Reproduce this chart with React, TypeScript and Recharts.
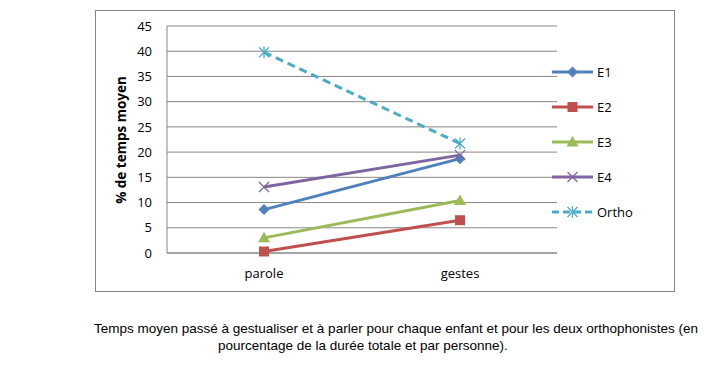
import React from 'react';
import { LineChart, Line, XAxis, YAxis, CartesianGrid } from 'recharts';

const categories = ['parole', 'gestes'];
const e1 = [8.6, 18.7];
const e2 = [0.3, 6.5];
const e3 = [3.0, 10.4];
const e4 = [13.1, 19.4];
const ortho = [39.8, 21.7];
const yTicks = [0, 5, 10, 15, 20, 25, 30, 35, 40, 45];

const SERIES = [
    { key: 'E1', values: e1, color: '#4F81BD', marker: 'diamond', dash: undefined },
    { key: 'E2', values: e2, color: '#C0504D', marker: 'square', dash: undefined },
    { key: 'E3', values: e3, color: '#9BBB59', marker: 'triangle', dash: undefined },
    { key: 'E4', values: e4, color: '#8064A2', marker: 'cross', dash: undefined },
    { key: 'Ortho', values: ortho, color: '#4BACC6', marker: 'star', dash: '8 5' },
];

const data = categories.map((c, i) => {
    const row: Record<string, string | number> = { name: c };
    SERIES.forEach((s) => { row[s.key] = s.values[i]; });
    return row;
});

const FONT = '"Open Sans", "Liberation Sans", sans-serif';
const CAPTION_FONT = '"Liberation Sans", Arial, sans-serif';
const GRID = '#868686';

const Marker = ({ kind, cx, cy, color }: { kind: string; cx: number; cy: number; color: string }) => {
    if (kind === 'diamond') {
        return <polygon points={`${cx},${cy - 5.5} ${cx + 5.5},${cy} ${cx},${cy + 5.5} ${cx - 5.5},${cy}`} fill={color} />;
    }
    if (kind === 'square') {
        return <rect x={cx - 5} y={cy - 5} width={10} height={10} fill={color} />;
    }
    if (kind === 'triangle') {
        return <polygon points={`${cx},${cy - 6} ${cx + 6},${cy + 4.5} ${cx - 6},${cy + 4.5}`} fill={color} />;
    }
    if (kind === 'cross') {
        return (
            <g stroke={color} strokeWidth={1.3}>
                <line x1={cx - 5} y1={cy - 5} x2={cx + 5} y2={cy + 5} />
                <line x1={cx - 5} y1={cy + 5} x2={cx + 5} y2={cy - 5} />
            </g>
        );
    }
    return (
        <g stroke={color} strokeWidth={1.3}>
            <line x1={cx - 5} y1={cy - 5} x2={cx + 5} y2={cy + 5} />
            <line x1={cx - 5} y1={cy + 5} x2={cx + 5} y2={cy - 5} />
            <line x1={cx} y1={cy - 6} x2={cx} y2={cy + 6} />
        </g>
    );
};

const LegendBox = () => (
    <div style={{ position: 'absolute', left: 552, top: 54, fontFamily: FONT, fontSize: 13, color: '#000' }}>
        {SERIES.map((s) => (
            <div key={s.key} style={{ height: 35, display: 'flex', alignItems: 'center' }}>
                <svg width={45} height={14}>
                    <line x1={0} y1={7} x2={41} y2={7} stroke={s.color} strokeWidth={3}
                        strokeDasharray={s.dash ? '7 4' : undefined} />
                    <Marker kind={s.marker} cx={20.5} cy={7} color={s.color} />
                </svg>
                <span>{s.key}</span>
            </div>
        ))}
    </div>
);

export default function App() {
    return (
        <div style={{ position: 'relative', width: 707, height: 367, margin: -8, background: '#fff', overflow: 'hidden' }}>
            <div style={{ position: 'absolute', left: 95, top: 10, width: 580, height: 282, border: `1px solid ${GRID}`, boxSizing: 'border-box' }} />
            <div style={{ position: 'absolute', left: 0, top: 0 }}>
                <LineChart width={707} height={300} data={data}
                    margin={{ top: 26, left: 127, right: 150, bottom: 17 }}>
                    <CartesianGrid vertical={false} stroke={GRID} />
                    <XAxis dataKey="name" height={30} stroke={GRID} tickLine={false} tickSize={14}
                        padding={{ left: 97, right: 97 }}
                        tick={{ fill: '#000', fontSize: 13, fontFamily: FONT }} />
                    <YAxis width={40} domain={[0, 45]} ticks={yTicks} stroke={GRID} tickLine={false} tickSize={13}
                        tick={{ fill: '#000', fontSize: 13, fontFamily: FONT }} />
                    {SERIES.map((s) => (
                        <Line key={s.key} dataKey={s.key} stroke={s.color} strokeWidth={3}
                            strokeDasharray={s.dash} isAnimationActive={false}
                            dot={(p: any) => <Marker key={`${s.key}-${p.index}`} kind={s.marker} cx={p.cx} cy={p.cy} color={s.color} />}
                            activeDot={false} />
                    ))}
                </LineChart>
            </div>
            <LegendBox />
            <div style={{ position: 'absolute', left: 121, top: 140, width: 0, height: 0 }}>
                <div style={{ position: 'absolute', transform: 'translate(-50%, -50%) rotate(-90deg)', whiteSpace: 'nowrap', fontFamily: FONT, fontSize: 13.5, fontWeight: 'bold' }}>
                    % de temps moyen
                </div>
            </div>
            <div style={{ position: 'absolute', left: 94, top: 321, width: 613, overflow: 'hidden', whiteSpace: 'nowrap', fontFamily: CAPTION_FONT, fontSize: 13.5, color: '#000' }}>
                Temps moyen passé à gestualiser et à parler pour chaque enfant et pour les deux orthophonistes (en
            </div>
            <div style={{ position: 'absolute', left: 218, top: 338, whiteSpace: 'nowrap', fontFamily: CAPTION_FONT, fontSize: 13.5, color: '#000' }}>
                pourcentage de la durée totale et par personne).
            </div>
        </div>
    );
}
